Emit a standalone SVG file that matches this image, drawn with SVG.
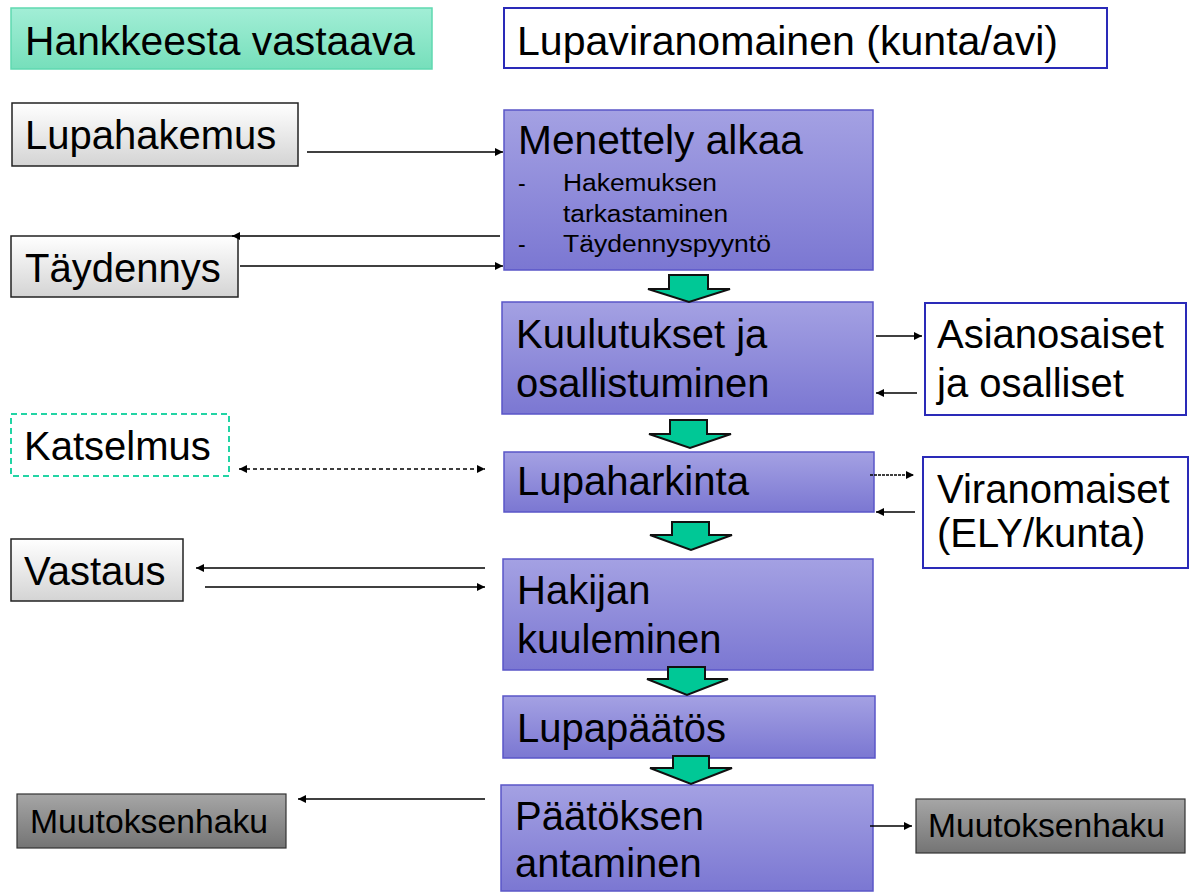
<svg xmlns="http://www.w3.org/2000/svg" width="1194" height="892" viewBox="0 0 1194 892">
<style>
  text { font-family: "Liberation Sans", Arial, sans-serif; fill: #000; }
  .big { font-size: 40px; }
  .sub { font-size: 23px; }
  .mk { font-size: 33px; }
  .proc { fill: url(#gPurple); stroke: #5a56c8; stroke-width: 1.5; }
  .blue { fill: #fff; stroke: #2a2ab8; stroke-width: 2; }
  .light { fill: url(#gLight); stroke: #222; stroke-width: 1.5; }
  .dark { fill: url(#gDark); stroke: #333; stroke-width: 1.2; }
  .flow { fill: #00c896; stroke: #111; stroke-width: 2; stroke-linejoin: miter; }
  .c { fill: none; stroke: #000; stroke-width: 1.3; }
</style>
<defs>
  <linearGradient id="gPurple" x1="0" y1="0" x2="0" y2="1">
    <stop offset="0" stop-color="#a4a1e3"/>
    <stop offset="1" stop-color="#7b77d2"/>
  </linearGradient>
  <linearGradient id="gGreen" x1="0" y1="0" x2="0" y2="1">
    <stop offset="0" stop-color="#a2eed6"/>
    <stop offset="1" stop-color="#76dfbb"/>
  </linearGradient>
  <linearGradient id="gLight" x1="0" y1="0" x2="0" y2="1">
    <stop offset="0" stop-color="#ffffff"/>
    <stop offset="1" stop-color="#d4d4d4"/>
  </linearGradient>
  <linearGradient id="gDark" x1="0" y1="0" x2="0" y2="1">
    <stop offset="0" stop-color="#a6a6a6"/>
    <stop offset="1" stop-color="#747474"/>
  </linearGradient>
  <marker id="ah" viewBox="0 0 10 10" refX="10" refY="5" markerWidth="9" markerHeight="8" markerUnits="userSpaceOnUse" orient="auto-start-reverse">
    <path d="M0,0 L10,5 L0,10 z" fill="#000"/>
  </marker>
</defs>

<g id="hankkeesta">
  <rect x="11" y="8" width="421" height="61" fill="url(#gGreen)" stroke="#5fd9b0" stroke-width="1.5"/>
  <text class="big" x="25" y="55" font-size="39" textLength="390" lengthAdjust="spacingAndGlyphs">Hankkeesta vastaava</text>
</g>
<g id="lupaviranomainen">
  <rect class="blue" x="504" y="8" width="603" height="60"/>
  <text class="big" x="517" y="55" textLength="541" lengthAdjust="spacingAndGlyphs">Lupaviranomainen (kunta/avi)</text>
</g>

<g id="lupahakemus">
  <rect class="light" x="12" y="103" width="286" height="63"/>
  <text class="big" x="25" y="149">Lupahakemus</text>
</g>
<g id="taydennys">
  <rect class="light" x="11" y="236" width="227" height="61"/>
  <text class="big" x="25" y="282">Täydennys</text>
</g>
<g id="katselmus">
  <rect x="11" y="414" width="218" height="62" fill="#fff" stroke="#22d4a4" stroke-width="2" stroke-dasharray="6 4"/>
  <text class="big" x="24" y="460">Katselmus</text>
</g>
<g id="vastaus">
  <rect class="light" x="11" y="539" width="172" height="62"/>
  <text class="big" x="24" y="585">Vastaus</text>
</g>
<g id="muutoksenhaku-left">
  <rect class="dark" x="17" y="794" width="269" height="54"/>
  <text class="mk" x="30" y="833" textLength="238" lengthAdjust="spacingAndGlyphs">Muutoksenhaku</text>
</g>

<g id="menettely">
  <rect class="proc" x="504" y="110" width="369" height="160"/>
  <text class="big" x="518" y="154" textLength="285" lengthAdjust="spacingAndGlyphs">Menettely alkaa</text>
  <text class="sub" x="518" y="191">-</text>
  <text class="sub" x="563" y="191" textLength="154" lengthAdjust="spacingAndGlyphs">Hakemuksen</text>
  <text class="sub" x="563" y="222" textLength="165" lengthAdjust="spacingAndGlyphs">tarkastaminen</text>
  <text class="sub" x="518" y="252">-</text>
  <text class="sub" x="563" y="252" textLength="208" lengthAdjust="spacingAndGlyphs">Täydennyspyyntö</text>
</g>
<g id="kuulutukset">
  <rect class="proc" x="502" y="302" width="371" height="112"/>
  <text class="big" x="516" y="348">Kuulutukset ja</text>
  <text class="big" x="516" y="397">osallistuminen</text>
</g>
<g id="asianosaiset">
  <rect class="blue" x="925" y="303" width="261" height="112"/>
  <text class="big" x="937" y="348">Asianosaiset</text>
  <text class="big" x="937" y="397">ja osalliset</text>
</g>
<g id="lupaharkinta">
  <rect class="proc" x="504" y="452" width="370" height="60"/>
  <text class="big" x="517" y="495" textLength="232" lengthAdjust="spacingAndGlyphs">Lupaharkinta</text>
</g>
<g id="viranomaiset">
  <rect class="blue" x="923" y="457" width="265" height="111"/>
  <text class="big" x="937" y="503">Viranomaiset</text>
  <text class="big" x="937" y="547">(ELY/kunta)</text>
</g>
<g id="hakijan">
  <rect class="proc" x="503" y="559" width="370" height="111"/>
  <text class="big" x="517" y="604">Hakijan</text>
  <text class="big" x="517" y="653">kuuleminen</text>
</g>
<g id="lupapaatos">
  <rect class="proc" x="503" y="696" width="372" height="62"/>
  <text class="big" x="517" y="742">Lupapäätös</text>
</g>
<g id="paatoksen">
  <rect class="proc" x="501" y="785" width="372" height="106"/>
  <text class="big" x="515" y="830">Päätöksen</text>
  <text class="big" x="515" y="877">antaminen</text>
</g>
<g id="muutoksenhaku-right">
  <rect class="dark" x="916" y="799" width="269" height="54"/>
  <text class="mk" x="928" y="837" textLength="237" lengthAdjust="spacingAndGlyphs">Muutoksenhaku</text>
</g>

<g id="flow-arrows">
  <polygon class="flow" points="669,275 708,275 708,289 730,289 689,302 648,289 669,289"/>
  <polygon class="flow" points="670,420 707,420 707,434 731,434 690,448 649,434 670,434"/>
  <polygon class="flow" points="672,522 709,522 709,535 732,535 691,550 650,535 672,535"/>
  <polygon class="flow" points="668,667 705,667 705,679 728,679 687,695 647,679 668,679"/>
  <polygon class="flow" points="673,756 709,756 709,768 732,768 691,784 650,768 673,768"/>
</g>

<g id="connectors">
  <line class="c" x1="307" y1="152" x2="503" y2="152" marker-end="url(#ah)"/>
  <line class="c" x1="500" y1="236" x2="232" y2="236" stroke-width="2" marker-end="url(#ah)"/>
  <line class="c" x1="240" y1="266" x2="503" y2="266" marker-end="url(#ah)"/>
  <line class="c" x1="876" y1="336" x2="922" y2="336" marker-end="url(#ah)"/>
  <line class="c" x1="917" y1="393" x2="876" y2="393" marker-end="url(#ah)"/>
  <line class="c" x1="239" y1="469" x2="485" y2="469" stroke-dasharray="4 3" marker-start="url(#ah)" marker-end="url(#ah)"/>
  <line class="c" x1="870" y1="475" x2="914" y2="475" stroke-width="1" stroke-dasharray="3 1" marker-end="url(#ah)"/>
  <line class="c" x1="915" y1="512" x2="876" y2="512" marker-end="url(#ah)"/>
  <line class="c" x1="485" y1="568" x2="196" y2="568" marker-end="url(#ah)"/>
  <line class="c" x1="205" y1="587" x2="485" y2="587" marker-end="url(#ah)"/>
  <line class="c" x1="485" y1="799" x2="298" y2="799" marker-end="url(#ah)"/>
  <line class="c" x1="870" y1="826" x2="912" y2="826" marker-end="url(#ah)"/>
</g>
</svg>
